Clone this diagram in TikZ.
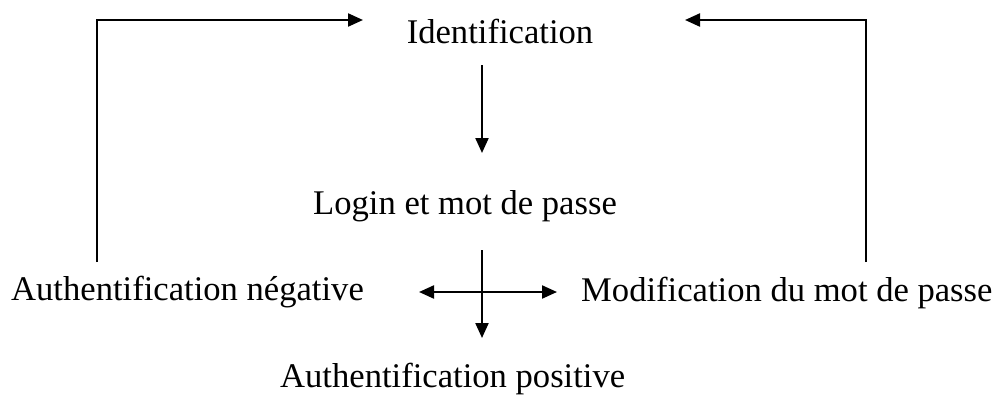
\documentclass[tikz,border=0pt]{standalone}
\usepackage{fontspec}
\setmainfont{Liberation Serif}
\usetikzlibrary{arrows.meta}
\begin{document}
\begin{tikzpicture}[x=1pt,y=-1pt,
  lbl/.style={font=\fontsize{34.6}{40}\selectfont, inner sep=0pt, anchor=base},
  conn/.style={line width=2.2pt, -{Triangle[length=15pt,width=13pt]}}]
\useasboundingbox (0,0) rectangle (997,394);
\node[lbl] (id) at (500,43) {Identification};
\node[lbl,anchor=base west] (login) at (313,214) {Login et mot de passe};
\node[lbl,anchor=base west] (neg) at (11,300) {Authentification négative};
\node[lbl,anchor=base west] (mod) at (581,301) {Modification du mot de passe};
\node[lbl,anchor=base west] (pos) at (280,387) {Authentification positive};
% coordinates
\coordinate (v1s) at (482,65);
\coordinate (v1e) at (482,153);
\coordinate (v2s) at (482,250);
\coordinate (v2e) at (482,338);
\coordinate (c) at (488,292);
\coordinate (hl) at (419,292);
\coordinate (hr) at (557,292);
\coordinate (ls) at (97,262);
\coordinate (le) at (363,20);
\coordinate (rs) at (866,262);
\coordinate (re) at (685,20);
\draw[conn] (v1s) -- (v1e);
\draw[conn] (v2s) -- (v2e);
\draw[conn] (c) -- (hl);
\draw[conn] (c) -- (hr);
\draw[conn] (ls) |- (le);
\draw[conn] (rs) |- (re);
\end{tikzpicture}
\end{document}
